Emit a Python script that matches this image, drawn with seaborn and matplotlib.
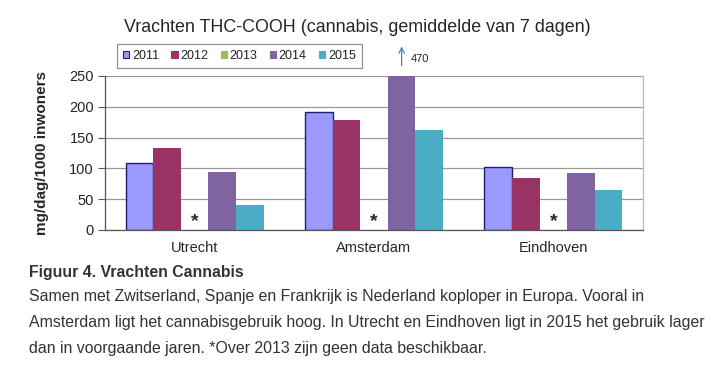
import seaborn as sns
import matplotlib.pyplot as plt
import pandas as pd
from matplotlib.patches import Patch

# Data (mg/dag/1000 inwoners)
cities = ["Utrecht", "Amsterdam", "Eindhoven"]
years = ["2011", "2012", "2013", "2014", "2015"]
v2011 = [109, 192, 103]
v2012 = [133, 179, 84]
v2013 = [None, None, None]  # geen data
v2014 = [94, 470, 92]
v2015 = [41, 162, 65]
colors = ["#9999FF", "#993366", "#9BBB59", "#8064A2", "#4BACC6"]

rows = []
for year, vals in zip(years, [v2011, v2012, v2013, v2014, v2015]):
    for city, v in zip(cities, vals):
        if v is not None:
            rows.append({"stad": city, "jaar": year, "waarde": v})
df = pd.DataFrame(rows)

sns.set_style("white")
plt.rcParams['font.family'] = ['Liberation Sans', 'DejaVu Sans']

fig = plt.figure(figsize=(7.2, 3.75), dpi=100)
ax = fig.add_axes([105 / 720, 1 - 230 / 375, 538 / 720, 154 / 375])

sns.barplot(
    data=df, x="stad", y="waarde", hue="jaar",
    order=cities, hue_order=years, palette=colors,
    width=0.77, saturation=1, linewidth=0, legend=False, ax=ax
)

# dark border on 2011 bars
for p in ax.patches:
    fc = p.get_facecolor()
    if abs(fc[0] - 0x99 / 255) < 0.01 and abs(fc[2] - 1.0) < 0.01:
        p.set_edgecolor("#1F1F6B")
        p.set_linewidth(1.0)

ax.set_ylim(0, 250)
ax.set_xlim(-0.5, 2.5)
ax.set_yticks([0, 50, 100, 150, 200, 250])
ax.set_xticks(range(len(cities)))
ax.set_xticks([-0.5, 0.5, 1.5, 2.5], minor=True)
ax.tick_params(axis='x', which='major', length=0, labelsize=10.5, pad=8)
ax.tick_params(axis='x', which='minor', length=4, direction='out', color='#555555', width=0.8)
ax.tick_params(axis='y', which='major', length=5, direction='out', color='#555555',
               width=0.8, labelsize=10.5, pad=3, left=True)
ax.grid(axis='y', color='#999999', linewidth=0.9)
ax.grid(axis='x', visible=False)
ax.set_axisbelow(True)
ax.set_xlabel("")
ax.set_ylabel("mg/dag/1000 inwoners", fontsize=11, fontweight='bold')
ax.yaxis.set_label_coords(-0.105, 0.5)

for s in ['left', 'bottom']:
    ax.spines[s].set_color('#555555')
    ax.spines[s].set_linewidth(0.9)
ax.spines['right'].set_color('#BBBBBB')
ax.spines['right'].set_linewidth(0.9)
ax.spines['top'].set_visible(False)

# asterisks for missing 2013
for i, city in enumerate(cities):
    ax.text(i, 14, "*", ha='center', va='center', fontsize=14, fontweight='bold')

# arrow for Amsterdam 2014 (off scale)
ams_2014 = v2014[cities.index("Amsterdam")]
bar_2014 = [p for p in ax.patches if abs(p.get_height() - ams_2014) < 0.5][0]
x_arrow = bar_2014.get_x() + bar_2014.get_width() / 2
ax.annotate("", xy=(x_arrow, 1.21), xytext=(x_arrow, 1.05),
            xycoords=('data', 'axes fraction'), textcoords=('data', 'axes fraction'),
            arrowprops=dict(arrowstyle='->', color='#4F81BD', lw=0.9), annotation_clip=False)
ax.text(x_arrow + 0.05, 1.11, str(ams_2014), transform=ax.get_xaxis_transform(),
        fontsize=8, va='center', ha='left')

# legend
handles = [Patch(facecolor=c, edgecolor=("#1F1F6B" if y == "2011" else c), linewidth=0.8, label=y)
           for y, c in zip(years, colors)]
leg = ax.legend(handles=handles, ncol=5, loc='lower left', bbox_to_anchor=(0.022, 1.05),
                fontsize=9, frameon=True, fancybox=False, edgecolor='#777777',
                handlelength=0.5, handleheight=0.5, handletextpad=0.2,
                columnspacing=1.0, borderpad=0.5, borderaxespad=0)
leg.get_frame().set_linewidth(0.9)
for t in leg.get_texts():
    t.set_color('#222222')

fig.text(357 / 720, 1 - 27 / 375, "Vrachten THC-COOH (cannabis, gemiddelde van 7 dagen)",
         ha='center', va='center', fontsize=12.9)

# caption
cap_color = '#333333'
fig.text(29 / 720, 1 - 272 / 375, "Figuur 4. Vrachten Cannabis", fontsize=11.4,
         fontweight='bold', va='center', color=cap_color)
caption = [
    "Samen met Zwitserland, Spanje en Frankrijk is Nederland koploper in Europa. Vooral in",
    "Amsterdam ligt het cannabisgebruik hoog. In Utrecht en Eindhoven ligt in 2015 het gebruik lager",
    "dan in voorgaande jaren. *Over 2013 zijn geen data beschikbaar.",
]
for k, line in enumerate(caption):
    fig.text(29 / 720, 1 - (297 + 26 * k) / 375, line, fontsize=11.4, va='center', color=cap_color)

fig.savefig("out.png", dpi=100)
